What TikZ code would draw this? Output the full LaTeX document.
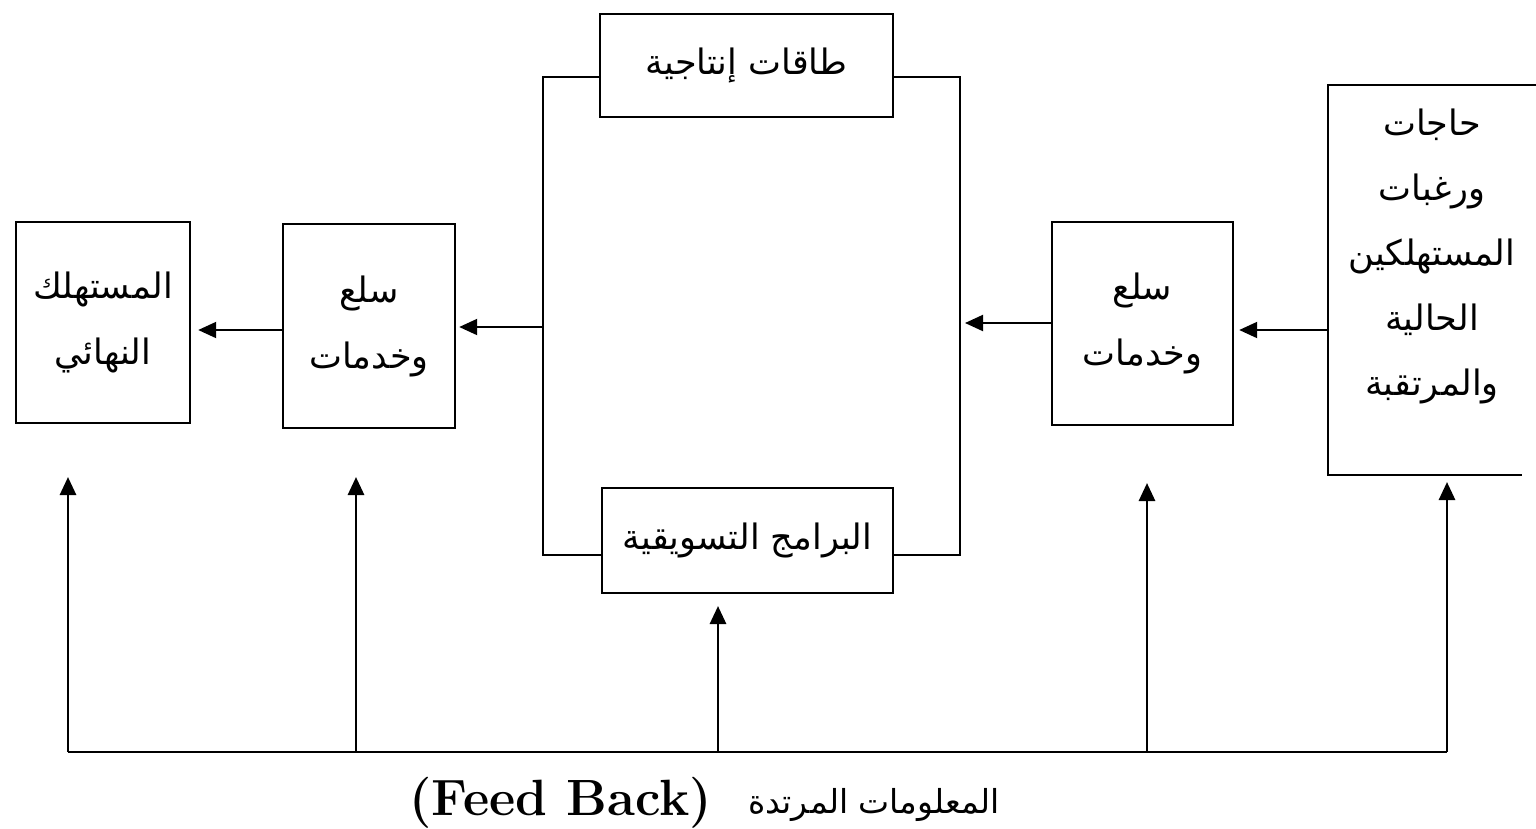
\documentclass[tikz,border=0pt]{standalone}
\usepackage{fontspec}
\usetikzlibrary{arrows.meta}
\newfontfamily\arabicfont[Script=Arabic]{DejaVu Sans}
\TeXXeTstate=1
\newcommand{\ar}[1]{\beginR #1\endR}

\begin{document}
\begin{tikzpicture}[x=1pt,y=-1pt,
  box/.style={draw,line width=2.4pt,fill=white,inner sep=0pt,
    font=\arabicfont\fontsize{35}{66}\selectfont,align=center},
  flow/.style={line width=2pt,-{Triangle[length=18pt,width=16pt]}},
  fb/.style={line width=2.8pt},
  fbarrow/.style={line width=2.8pt,-{Triangle[length=18pt,width=16pt]}},
]
\useasboundingbox (0,0) rectangle (1536,828);

% production / marketing bracket
\draw[line width=2.6pt] (600,77) -- (543,77) -- (543,555) -- (602,555);
\draw[line width=2.6pt] (893,77) -- (960,77) -- (960,555) -- (893,555);

% boxes
\node[box,minimum width=174pt,minimum height=201pt] (cons) at (103,322.5)
  {\ar{المستهلك}\\\ar{النهائي}};
\node[box,minimum width=172pt,minimum height=204pt] (goods) at (369,326)
  {\ar{سلع}\\\ar{وخدمات}};
\node[box,minimum width=293pt,minimum height=103pt] (prod) at (746.5,65.5)
  {\ar{طاقات إنتاجية}};
\node[box,minimum width=291pt,minimum height=105pt] (mkt) at (747.5,540.5)
  {\ar{البرامج التسويقية}};
\node[box,minimum width=181pt,minimum height=203pt] (goods2) at (1142.5,323.5)
  {\ar{سلع}\\\ar{وخدمات}};

% needs and wants (open on the right)
\draw[line width=2.4pt] (1536,85) -- (1328,85) -- (1328,475) -- (1522,475);
\node[font=\arabicfont\fontsize{35}{65}\selectfont,align=center] (needs) at (1432,256)
  {\ar{حاجات}\\\ar{ورغبات}\\\ar{المستهلكين}\\\ar{الحالية}\\\ar{والمرتقبة}};

% forward flow
\coordinate (nd) at (1328,330);
\coordinate (brR) at (960,323);
\coordinate (brL) at (543,327);
\draw[flow,shorten >=5pt] (nd) -- (goods2.east |- nd);
\draw[flow,shorten >=5pt] (goods2.west |- brR) -- (brR);
\draw[flow,shorten >=3pt] (brL) -- (goods.east |- brL);
\draw[flow,shorten >=7pt] (goods.west |- 0,330) -- (cons.east |- 0,330);

% feedback
\coordinate (b1) at (68,752);
\coordinate (b2) at (356,752);
\coordinate (b3) at (718,752);
\coordinate (b4) at (1147,752);
\coordinate (b5) at (1447,752);
\coordinate (t1) at (68,477);
\coordinate (t2) at (356,477);
\coordinate (t3) at (718,606);
\coordinate (t4) at (1147,483);
\coordinate (t5) at (1447,482);
\draw[fb] (b1) -- (b5);
\foreach \i in {1,...,5} \draw[fbarrow] (b\i) -- (t\i);

\node[anchor=base east,font=\arabicfont\fontsize{33}{36}\selectfont,inner sep=0pt] (fbar) at (1000,813)
  {\ar{المعلومات المرتدة}};
\node[anchor=base east,font=\fontsize{51}{55}\selectfont\bfseries,inner sep=0pt] (fben) at (712,815)
  {(Feed Back)};
\end{tikzpicture}
\end{document}
